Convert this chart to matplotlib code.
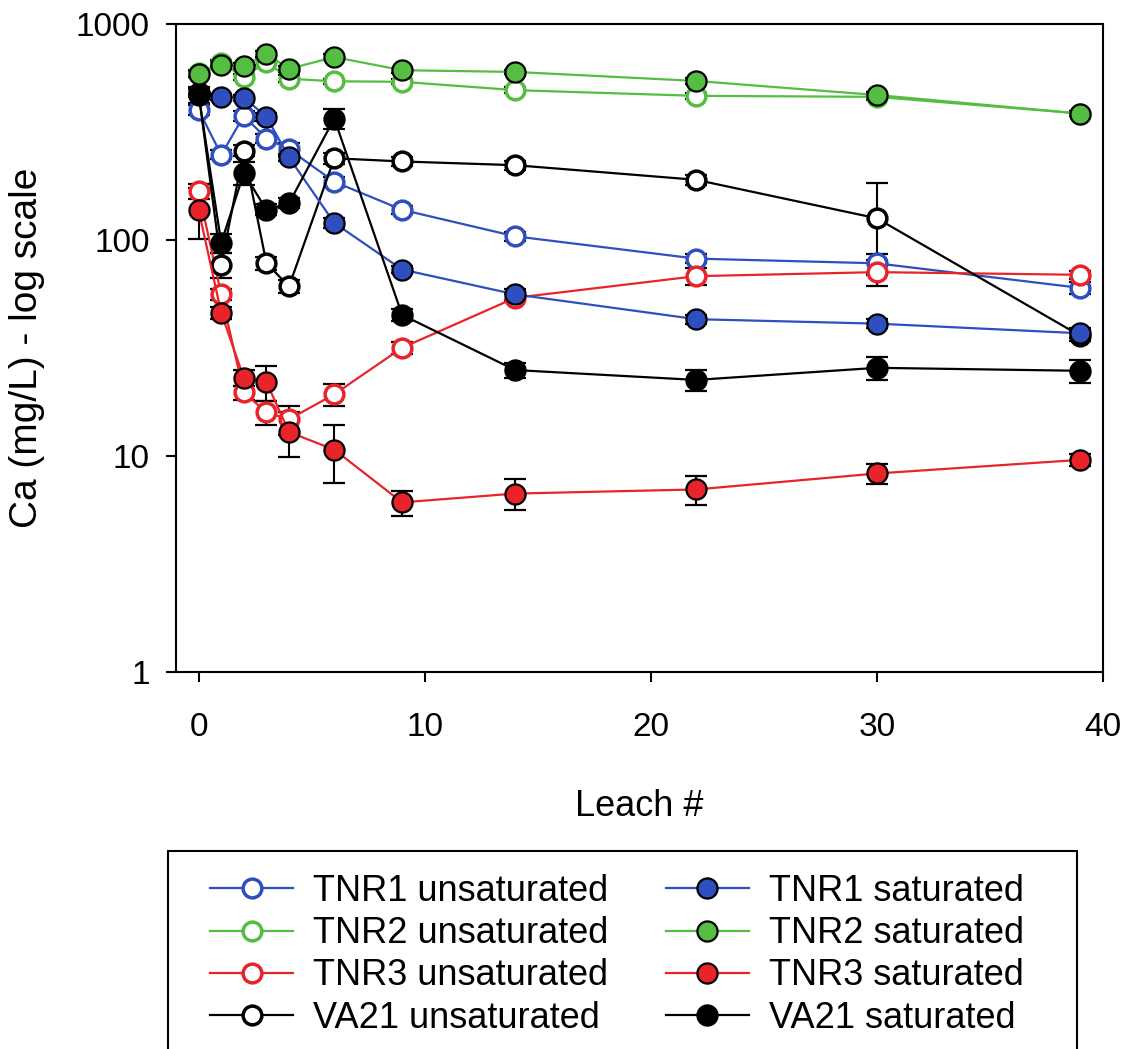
import matplotlib
matplotlib.use("Agg")
import matplotlib.pyplot as plt
from matplotlib.patches import Rectangle
from matplotlib.ticker import FixedLocator, NullLocator

plt.rcParams['font.family'] = ['Liberation Sans', 'DejaVu Sans']

leach = [0, 1, 2, 3, 4, 6, 9, 14, 22, 30, 39]

tnr1_unsat = [400, 248, 376, 295, 263, 186, 138, 104, 82, 78, 60]
tnr1_unsat_err = [20, 12, 20, 15, 17, 10, 6, 5, 4, 8, 4]
tnr2_unsat = [590, 660, 569, 667, 558, 543, 540, 494, 465, 460, 385]
tnr2_unsat_err = [20, 20, 20, 20, 20, 15, 15, 15, 15, 15, 10]
tnr3_unsat = [168, 56, 19.7, 15.9, 14.8, 19.3, 31.7, 54, 68, 71, 69]
tnr3_unsat_err = [14, 3, 1.5, 2, 2.3, 2.3, 2, 2, 6, 10, 3]
va21_unsat = [480, 77, 259, 78, 61, 239, 231, 222, 190, 126, 36]
va21_unsat_err = [20, 10, 15, 5, 4, 15, 10, 10, 10, 57, 2]

tnr1_sat = [480, 460, 456, 372, 241, 120, 73, 56, 43, 41, 37]
tnr1_sat_err = [20, 15, 15, 15, 10, 6, 3, 3, 2, 2, 2]
tnr2_sat = [587, 646, 640, 727, 620, 703, 611, 600, 545, 469, 385]
tnr2_sat_err = [20, 20, 20, 20, 20, 20, 15, 15, 15, 15, 10]
tnr3_sat = [138, 46, 23, 22, 12.9, 10.7, 6.1, 6.7, 7.0, 8.3, 9.6]
tnr3_sat_err = [37, 3, 2, 4, 3, 3.2, 0.8, 1.1, 1.1, 0.9, 0.6]
va21_sat = [470, 97, 204, 138, 148, 365, 45, 25, 22.5, 25.6, 24.8]
va21_sat_err = [40, 10, 25, 8, 8, 40, 3, 2, 2.5, 3, 3]

blue = '#2e4fbd'
green = '#55bd42'
red = '#e8242a'

series = [
    ("TNR1 unsaturated", tnr1_unsat, tnr1_unsat_err, blue, False),
    ("TNR2 unsaturated", tnr2_unsat, tnr2_unsat_err, green, False),
    ("TNR3 unsaturated", tnr3_unsat, tnr3_unsat_err, red, False),
    ("VA21 unsaturated", va21_unsat, va21_unsat_err, 'black', False),
    ("TNR1 saturated", tnr1_sat, tnr1_sat_err, blue, True),
    ("TNR2 saturated", tnr2_sat, tnr2_sat_err, green, True),
    ("TNR3 saturated", tnr3_sat, tnr3_sat_err, red, True),
    ("VA21 saturated", va21_sat, va21_sat_err, 'black', True),
]

fig = plt.figure(figsize=(11.26, 10.49), dpi=100)
ax = fig.add_axes([176/1126, 1 - 672/1049, 927/1126, 648/1049])

handles = []
for i, (label, y, err, col, filled) in enumerate(series):
    ax.errorbar(leach, y, yerr=err, fmt='none', ecolor='black', elinewidth=1.5,
                capsize=8, capthick=1.6, zorder=2 + i * 0.1)
    if filled:
        h, = ax.plot(leach, y, '-o', color=col, lw=1.6, ms=14.5, mfc=col,
                     mec='black', mew=1.6, label=label, zorder=3 + i * 0.1)
    else:
        h, = ax.plot(leach, y, '-o', color=col, lw=1.6, ms=13.5, mfc='white',
                     mec=col, mew=2.5, label=label, zorder=3 + i * 0.1)
    handles.append(h)

ax.set_yscale('log')
ax.set_ylim(1, 1000)
ax.set_xlim(-1, 40)
ax.yaxis.set_major_locator(FixedLocator([1, 10, 100, 1000]))
ax.yaxis.set_minor_locator(NullLocator())
ax.set_yticklabels(['1', '10', '100', '1000'])
ax.set_xticks([0, 10, 20, 30, 40])

for sp in ax.spines.values():
    sp.set_linewidth(1.5)
ax.tick_params(axis='both', direction='out', width=1.5, length=7, labelsize=24)
ax.tick_params(axis='y', pad=12)
ax.tick_params(axis='x', pad=22)

ax.set_xlabel("Leach #", fontsize=26)
ax.set_ylabel("Ca (mg/L) - log scale", fontsize=28)
ax.xaxis.set_label_coords(0.5, -0.18)
ax.yaxis.set_label_coords(-0.141, 0.5)

# legend box below the axes
fig.patches.append(Rectangle((168/1126, -0.02), (1077 - 168)/1126, 1 - 851/1049 + 0.02,
                             transform=fig.transFigure, fill=False,
                             edgecolor='black', lw=1.5))
fig.legend(handles=handles, loc='upper left', ncol=2, frameon=False,
           bbox_to_anchor=(210/1126, 1 - 874/1049), borderpad=0,
           fontsize=26, numpoints=1, handlelength=2.3, handletextpad=0.55,
           columnspacing=1.6, labelspacing=0.2, borderaxespad=0, markerscale=1.0)

fig.savefig("out.png", dpi=100)
